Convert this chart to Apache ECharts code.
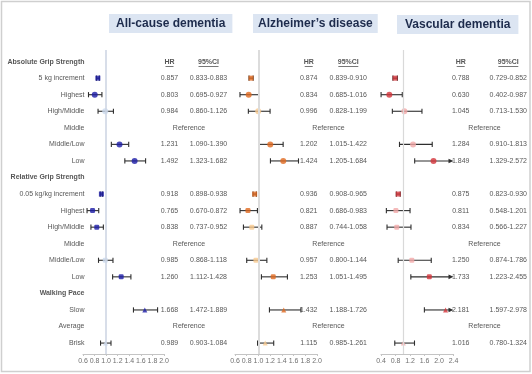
<!DOCTYPE html>
<html>
<head>
<meta charset="utf-8">
<script src="https://cdn.jsdelivr.net/npm/echarts@6/dist/echarts.min.js"></script>
<style>html,body{margin:0;padding:0;background:#fff;}#c{width:532px;height:374px;}</style>
</head>
<body>
<div id="c"></div>
<script>
// ---- data ----
const rowLabels = ["Absolute Grip Strength","5 kg increment","Highest","High/Middle","Middle","Middle/Low","Low",
  "Relative Grip Strength","0.05 kg/kg increment","Highest","High/Middle","Middle","Middle/Low","Low",
  "Walking Pace","Slow","Average","Brisk"];
const headerRows = [0, 7, 14];
const referenceRows = [4, 11, 16];
const panelTitles = ["All-cause dementia", "Alzheimer\u2019s disease", "Vascular dementia"];

const allHR = [null,0.857,0.803,0.984,null,1.231,1.492,null,0.918,0.765,0.838,null,0.985,1.260,null,1.668,null,0.989];
const allLo = [null,0.833,0.695,0.860,null,1.090,1.323,null,0.898,0.670,0.737,null,0.868,1.112,null,1.472,null,0.903];
const allHi = [null,0.883,0.927,1.126,null,1.390,1.682,null,0.938,0.872,0.952,null,1.118,1.428,null,1.889,null,1.084];
const allSig = [0,1,1,0,0,1,1,0,1,1,1,0,0,1,0,1,0,0];

const adHR = [null,0.874,0.834,0.996,null,1.202,1.424,null,0.936,0.821,0.887,null,0.957,1.253,null,1.432,null,1.115];
const adLo = [null,0.839,0.685,0.828,null,1.015,1.205,null,0.908,0.686,0.744,null,0.800,1.051,null,1.188,null,0.985];
const adHi = [null,0.910,1.016,1.199,null,1.422,1.684,null,0.965,0.983,1.058,null,1.144,1.495,null,1.726,null,1.261];
const adSig = [0,1,1,0,0,1,1,0,1,1,0,0,0,1,0,1,0,0];

const vdHR = [null,0.788,0.630,1.045,null,1.284,1.849,null,0.875,0.811,0.834,null,1.250,1.733,null,2.181,null,1.016];
const vdLo = [null,0.729,0.402,0.713,null,0.910,1.329,null,0.823,0.548,0.566,null,0.874,1.223,null,1.597,null,0.780];
const vdHi = [null,0.852,0.987,1.530,null,1.813,2.572,null,0.930,1.201,1.227,null,1.786,2.455,null,2.978,null,1.324];
const vdSig = [0,1,1,0,0,0,1,0,1,0,0,0,0,1,0,1,0,0];

// ---- layout / style ----
const FONT = 'Liberation Sans, Arial, sans-serif';
const TOP = 50, BOTTOM = 20, YMIN = -0.7, YMAX = 17.66;
const panels = [
  {hr:allHR, lo:allLo, hi:allHi, sig:allSig, dark:'#1c1ca6', light:'#cbd9ee', refColor:'#cbd3e2', refW:1.5,
   left:83, width:81, min:0.6, max:2.0, interval:0.2, textLeft:169.5, textWidth:39,
   titleLeft:109, titleTop:14, titlePad:[3,7]},
  {hr:adHR, lo:adLo, hi:adHi, sig:adSig, dark:'#e0691f', light:'#f7c98f', refColor:'#dcdcdc', refW:2,
   left:235, width:82, min:0.6, max:2.0, interval:0.2, textLeft:308.7, textWidth:39.6,
   titleLeft:253, titleTop:14, titlePad:[3,5]},
  {hr:vdHR, lo:vdLo, hi:vdHi, sig:vdSig, dark:'#d3333a', light:'#f2a9a9', refColor:'#d9d9d9', refW:1.2,
   left:381, width:72.5, min:0.4, max:2.4, interval:0.4, textLeft:460.7, textWidth:47.6,
   titleLeft:397, titleTop:15, titlePad:[3,8]}
];

function sectionOf(i){ return i < 7 ? 0 : (i < 14 ? 1 : 2); }
function markerFor(i){
  if (i === 1 || i === 8) return {symbol:'rect', size:5};
  const s = sectionOf(i);
  if (s === 0) return {symbol:'circle', size:6};
  if (s === 1) return {symbol:'roundRect', size:5};
  return {symbol:'triangle', size:5};
}

const grid = [], xAxis = [], yAxis = [], series = [], title = [];
function addGrid(g){ grid.push(Object.assign({top:TOP, bottom:BOTTOM, containLabel:false}, g));
  yAxis.push({type:'value', gridIndex:grid.length-1, inverse:true, min:YMIN, max:YMAX, show:false});
  return grid.length-1; }

panels.forEach((p, pi) => {
  title.push({text: panelTitles[pi], left:p.titleLeft, top:p.titleTop, padding:p.titlePad,
    backgroundColor:'#dce5f2',
    textStyle:{fontFamily:FONT, fontSize:12, fontWeight:'bold', color:'#1d2b4c', lineHeight:13}});
  // plot grid
  const gi = addGrid({left:p.left, width:p.width});
  xAxis.push({type:'value', gridIndex:gi, min:p.min, max:p.max, interval:p.interval,
    axisLine:{show:true, onZero:false, lineStyle:{color:'#c4c4c4', width:1}},
    axisTick:{show:true, length:2, lineStyle:{color:'#c4c4c4'}},
    splitLine:{show:false},
    axisLabel:{fontFamily:FONT, fontSize:7, color:'#707070', margin:4, formatter:v => v.toFixed(1), hideOverlap:false}});
  // reference line
  series.push({type:'line', xAxisIndex:gi, yAxisIndex:gi, data:[], z:1,
    markLine:{silent:true, symbol:['none','none'], label:{show:false},
      lineStyle:{color:p.refColor, width:p.refW, type:'solid'}, data:[{xAxis:1}]}});
  const ebData = [], ptData = [];
  p.hr.forEach((v, i) => {
    if (v == null) return;
    ebData.push([v, i, p.lo[i], p.hi[i]]);
    const m = markerFor(i);
    ptData.push({value:[v, i], symbol:m.symbol, symbolSize:m.size,
      itemStyle:{color: p.sig[i] ? p.dark : p.light}});
  });
  const axMax = p.max;
  series.push({type:'custom', xAxisIndex:gi, yAxisIndex:gi, clip:false, z:2, data:ebData,
    renderItem:(params, api) => {
      const row = api.value(1), lo = api.value(2), hi = api.value(3);
      const a = api.coord([lo, row]);
      const arrow = hi > axMax;
      const b = api.coord([Math.min(hi, axMax), row]);
      const y = a[1], st = {stroke:'#2e2e2e', lineWidth:1.1};
      const ch = [
        {type:'line', shape:{x1:a[0], y1:y, x2: arrow ? b[0]-4 : b[0], y2:y}, style:st},
        {type:'line', shape:{x1:a[0], y1:y-2.6, x2:a[0], y2:y+2.6}, style:st}
      ];
      if (arrow) ch.push({type:'polygon', shape:{points:[[b[0],y],[b[0]-5,y-2.3],[b[0]-5,y+2.3]]}, style:{fill:'#2e2e2e'}});
      else ch.push({type:'line', shape:{x1:b[0], y1:y-2.6, x2:b[0], y2:y+2.6}, style:st});
      return {type:'group', children:ch};
    }});
  series.push({type:'scatter', xAxisIndex:gi, yAxisIndex:gi, z:3, data:ptData, silent:true});

  // text grid
  const ti = addGrid({left:p.textLeft, width:p.textWidth});
  xAxis.push({type:'value', gridIndex:ti, min:0, max:1, show:false});
  const txt = [];
  p.hr.forEach((v, i) => {
    if (v == null) return;
    txt.push([0, i, v.toFixed(3)]);
    txt.push([1, i, p.lo[i].toFixed(3) + '-' + p.hi[i].toFixed(3)]);
  });
  referenceRows.forEach(r => txt.push([0.5, r, 'Reference']));
  series.push({type:'scatter', xAxisIndex:ti, yAxisIndex:ti, symbolSize:1, itemStyle:{color:'rgba(0,0,0,0)'},
    data:txt, silent:true,
    label:{show:true, position:'inside', formatter:q => q.value[2], fontFamily:FONT, fontSize:7, color:'#2a2a2a'}});
  series.push({type:'scatter', xAxisIndex:ti, yAxisIndex:ti, symbolSize:1, itemStyle:{color:'rgba(0,0,0,0)'},
    data:[[0,0,'HR'],[1,0,'95%CI']], silent:true,
    label:{show:true, position:'inside', formatter:q => q.value[2], fontFamily:FONT, fontSize:7, fontWeight:'bold', color:'#2a2a2a'}});
  series.push({type:'scatter', xAxisIndex:ti, yAxisIndex:ti, symbol:'rect', silent:true,
    itemStyle:{color:'#2a2a2a'}, symbolOffset:[0,5],
    data:[{value:[0,0], symbolSize:[8,0.8]}, {value:[1,0], symbolSize:[20,0.8]}]});
});

// row label grid
const li = addGrid({left:0, width:86});
xAxis.push({type:'value', gridIndex:li, min:0, max:1, show:false});
series.push({type:'scatter', xAxisIndex:li, yAxisIndex:li, symbolSize:1, itemStyle:{color:'rgba(0,0,0,0)'}, silent:true,
  data: rowLabels.map((t, i) => ({value:[1, i, t],
    label:{fontWeight: headerRows.includes(i) ? 'bold' : 'normal'}})),
  label:{show:true, position:'left', distance:1, formatter:q => q.value[2], fontFamily:FONT, fontSize:7, color:'#2a2a2a'}});

const chart = echarts.init(document.getElementById('c'), null, {renderer:'canvas'});
chart.setOption({
  backgroundColor:'#ffffff', animation:false,
  title, grid, xAxis, yAxis, series,
  graphic:[{type:'rect', shape:{x:1.5, y:1.5, width:528.5, height:370}, style:{fill:null, stroke:'#cfcfcf', lineWidth:1.5}, silent:true}]
});
</script>
</body>
</html>
